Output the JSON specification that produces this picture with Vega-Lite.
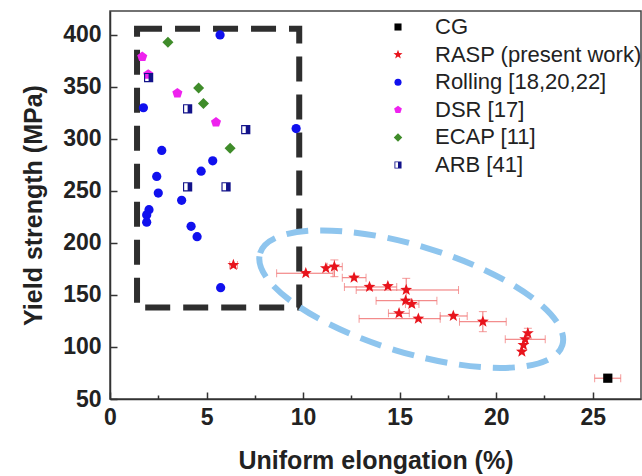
{
  "$schema": "https://vega.github.io/schema/vega-lite/v6.json",
  "width": 531,
  "height": 388,
  "autosize": {"type": "none"},
  "padding": {"left": 110, "top": 11, "right": 1, "bottom": 77},
  "background": "white",
  "config": {
    "font": "Liberation Sans",
    "view": {"stroke": "#444", "strokeWidth": 1.5},
    "axis": {
      "domainColor": "#333", "domainWidth": 1.5,
      "tickColor": "#333", "tickWidth": 1.5,
      "labelFont": "Liberation Sans", "labelFontSize": 23, "labelFontWeight": "bold", "labelColor": "#222",
      "titleFont": "Liberation Sans", "titleFontSize": 25, "titleFontWeight": "bold", "titleColor": "#222",
      "grid": false
    },
    "legend": {
      "labelFont": "Liberation Sans", "labelFontSize": 22, "labelColor": "#222", "labelLimit": 0,
      "symbolSize": 50, "rowPadding": 5.6, "labelOffset": 26, "padding": 0, "symbolStrokeWidth": 0
    }
  },
  "datasets": {
    "pts": [
      {"series": "Rolling [18,20,22]", "x": 5.7, "y": 400},
      {"series": "Rolling [18,20,22]", "x": 1.73, "y": 330},
      {"series": "Rolling [18,20,22]", "x": 9.64, "y": 310},
      {"series": "Rolling [18,20,22]", "x": 2.68, "y": 289},
      {"series": "Rolling [18,20,22]", "x": 5.32, "y": 279},
      {"series": "Rolling [18,20,22]", "x": 4.72, "y": 269},
      {"series": "Rolling [18,20,22]", "x": 2.42, "y": 264},
      {"series": "Rolling [18,20,22]", "x": 2.5, "y": 248},
      {"series": "Rolling [18,20,22]", "x": 3.71, "y": 241},
      {"series": "Rolling [18,20,22]", "x": 2.02, "y": 232},
      {"series": "Rolling [18,20,22]", "x": 1.9, "y": 227},
      {"series": "Rolling [18,20,22]", "x": 1.9, "y": 220},
      {"series": "Rolling [18,20,22]", "x": 4.2, "y": 216},
      {"series": "Rolling [18,20,22]", "x": 4.51, "y": 206},
      {"series": "Rolling [18,20,22]", "x": 5.73, "y": 157},
      {"series": "DSR [17]", "x": 1.67, "y": 379},
      {"series": "DSR [17]", "x": 1.98, "y": 362},
      {"series": "DSR [17]", "x": 3.49, "y": 344},
      {"series": "DSR [17]", "x": 5.49, "y": 316},
      {"series": "ECAP [11]", "x": 3.0, "y": 393},
      {"series": "ECAP [11]", "x": 4.59, "y": 349},
      {"series": "ECAP [11]", "x": 4.84, "y": 334},
      {"series": "ECAP [11]", "x": 6.22, "y": 291},
      {"series": "ARB [41]", "x": 2.0, "y": 359},
      {"series": "ARB [41]", "x": 4.02, "y": 329},
      {"series": "ARB [41]", "x": 7.03, "y": 309},
      {"series": "ARB [41]", "x": 4.02, "y": 254},
      {"series": "ARB [41]", "x": 6.01, "y": 254},
      {"series": "CG", "x": 25.78, "y": 70, "xmin": 25.1, "xmax": 26.45},
      {"series": "RASP (present work)", "x": 6.39, "y": 178.8, "xmin": 6.2, "xmax": 6.6},
      {"series": "RASP (present work)", "x": 10.14, "y": 170.9, "xmin": 8.63, "xmax": 11.55},
      {"series": "RASP (present work)", "x": 11.18, "y": 175.7},
      {"series": "RASP (present work)", "x": 11.62, "y": 177.2, "xmin": 11.25, "xmax": 12.03, "ymin": 167.6, "ymax": 183.7},
      {"series": "RASP (present work)", "x": 12.64, "y": 166.6, "xmin": 12.03, "xmax": 13.26},
      {"series": "RASP (present work)", "x": 13.44, "y": 157.7, "xmin": 12.14, "xmax": 14.85},
      {"series": "RASP (present work)", "x": 14.39, "y": 158.4},
      {"series": "RASP (present work)", "x": 15.34, "y": 154.8, "xmin": 12.75, "xmax": 18.05, "ymin": 142, "ymax": 166},
      {"series": "RASP (present work)", "x": 15.31, "y": 144.5, "xmin": 13.78, "xmax": 16.93},
      {"series": "RASP (present work)", "x": 15.63, "y": 141.3, "xmin": 15.3, "xmax": 16.0},
      {"series": "RASP (present work)", "x": 14.97, "y": 132.4, "xmin": 14.42, "xmax": 15.5},
      {"series": "RASP (present work)", "x": 15.97, "y": 127.2, "xmin": 12.9, "xmax": 17.1},
      {"series": "RASP (present work)", "x": 17.78, "y": 129.8, "xmin": 17.1, "xmax": 18.5},
      {"series": "RASP (present work)", "x": 19.31, "y": 124.3, "xmin": 18.1, "xmax": 20.52, "ymin": 114.7, "ymax": 134},
      {"series": "RASP (present work)", "x": 21.64, "y": 113.2, "ymin": 108, "ymax": 118},
      {"series": "RASP (present work)", "x": 21.5, "y": 107.4, "xmin": 20.47, "xmax": 22.54},
      {"series": "RASP (present work)", "x": 21.41, "y": 101.9},
      {"series": "RASP (present work)", "x": 21.33, "y": 95.5}
    ],
    "box": [{"x1": 1.4, "x2": 9.8, "y1": 406, "y2": 138}],
    "ell": [{"cx": 15.6, "cy": 146}]
  },
  "layer": [
    {
      "data": {"name": "box"},
      "mark": {"type": "rect", "fill": "transparent", "stroke": "#2e2e2e", "strokeWidth": 6, "strokeDash": [25, 13]},
      "encoding": {
        "x": {"field": "x1", "type": "quantitative", "title": "Uniform elongation (%)"},
        "x2": {"field": "x2"},
        "y": {"field": "y1", "type": "quantitative", "title": "Yield strength (MPa)"},
        "y2": {"field": "y2"}
      }
    },
    {
      "data": {"name": "ell"},
      "mark": {"type": "point", "filled": false, "stroke": "#8ec5ee", "strokeWidth": 6, "strokeDash": [22, 12], "opacity": 1,
        "shape": "M -0.9446 -0.2872 A 0.987 0.334 16.9 0 1 0.9446 0.2872 A 0.987 0.334 16.9 0 1 -0.9446 -0.2872 Z",
        "size": 102400},
      "encoding": {
        "x": {"field": "cx", "type": "quantitative", "title": "Uniform elongation (%)"},
        "y": {"field": "cy", "type": "quantitative", "title": "Yield strength (MPa)"}
      }
    },
    {
      "data": {"name": "pts"},
      "transform": [{"filter": "isValid(datum.xmin)"}],
      "mark": {"type": "errorbar", "color": "#f07070", "thickness": 1, "ticks": {"size": 8}},
      "encoding": {
        "x": {"field": "xmin", "type": "quantitative", "title": "Uniform elongation (%)"},
        "x2": {"field": "xmax"},
        "y": {"field": "y", "type": "quantitative", "title": "Yield strength (MPa)"},
        "color": {"value": "#f07070"}
      }
    },
    {
      "data": {"name": "pts"},
      "transform": [{"filter": "isValid(datum.ymin)"}],
      "mark": {"type": "errorbar", "color": "#f07070", "thickness": 1, "ticks": {"size": 8}},
      "encoding": {
        "y": {"field": "ymin", "type": "quantitative", "title": "Yield strength (MPa)"},
        "y2": {"field": "ymax"},
        "x": {"field": "x", "type": "quantitative", "title": "Uniform elongation (%)"},
        "color": {"value": "#f07070"}
      }
    },
    {
      "data": {"name": "pts"},
      "mark": {"type": "point", "filled": true, "opacity": 1, "size": 85},
      "encoding": {
        "x": {
          "field": "x", "type": "quantitative", "title": "Uniform elongation (%)",
          "scale": {"domain": [0, 27.5], "nice": false, "zero": false},
          "axis": {
            "values": [0, 2.5, 5, 7.5, 10, 12.5, 15, 17.5, 20, 22.5, 25],
            "labelExpr": "datum.value % 5 === 0 ? datum.label : ''",
            "tickSize": {"condition": {"test": "datum.value % 5 === 0", "value": -7}, "value": -4},
            "labelPadding": 14, "titlePadding": 19, "labelFlush": false
          }
        },
        "y": {
          "field": "y", "type": "quantitative", "title": "Yield strength (MPa)",
          "scale": {"domain": [50, 423], "nice": false, "zero": false},
          "axis": {
            "values": [50, 75, 100, 125, 150, 175, 200, 225, 250, 275, 300, 325, 350, 375, 400],
            "labelExpr": "datum.value % 50 === 0 ? datum.label : ''",
            "tickSize": {"condition": {"test": "datum.value % 50 === 0", "value": -7}, "value": -4},
            "labelPadding": 16, "titlePadding": 16, "labelFlush": false
          }
        },
        "color": {
          "field": "series", "type": "nominal",
          "scale": {
            "domain": ["CG", "RASP (present work)", "Rolling [18,20,22]", "DSR [17]", "ECAP [11]", "ARB [41]"],
            "range": ["#000000", "#e8141c", "#1010ee", "#ee22ee", "#3f8c2a", "#12128a"]
          },
          "legend": {"orient": "none", "legendX": 277, "legendY": 5, "title": null}
        },
        "shape": {
          "field": "series", "type": "nominal",
          "scale": {
            "domain": ["CG", "RASP (present work)", "Rolling [18,20,22]", "DSR [17]", "ECAP [11]", "ARB [41]"],
            "range": [
              "square",
              "M 0 -1.35 L 0.333 -0.459 L 1.284 -0.417 L 0.539 0.176 L 0.794 1.092 L 0 0.567 L -0.794 1.092 L -0.539 0.176 L -1.284 -0.417 L -0.333 -0.459 Z",
              "circle",
              "M 0 -1.15 L 1.094 -0.355 L 0.676 0.93 L -0.676 0.93 L -1.094 -0.355 Z",
              "M -1.2 0 L 0 -1.2 L 1.2 0 L 0 1.2 Z",
              "M -1 -1 L 1 -1 L 1 1 L -1 1 Z M -0.75 -0.75 L -0.75 0.75 L 0 0.75 L 0 -0.75 Z"
            ]
          },
          "legend": {"orient": "none", "legendX": 277, "legendY": 5, "title": null}
        }
      }
    }
  ]
}
